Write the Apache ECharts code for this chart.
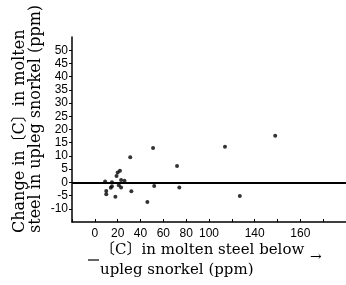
<!DOCTYPE html>
<html>
<head>
<meta charset="utf-8">
<script src="https://cdn.jsdelivr.net/npm/echarts@6/dist/echarts.min.js"></script>
<style>
  html, body { margin: 0; padding: 0; background: #fff; }
  #chart { width: 346px; height: 285px; }
</style>
</head>
<body>
<div id="chart"></div>
<script>
// [C] below upleg snorkel (ppm) vs change in [C] in upleg snorkel (ppm)
const carbonBelow = [9, 10, 10, 14, 15, 15, 18, 19, 20, 22, 21, 23, 23, 26, 31, 32, 46, 52, 51, 72, 74, 114, 127, 158]
const carbonChange = [0.3, -3.3, -4.5, -2, 0, -1.5, -5.4, 2.4, 3.7, 4.4, -1.1, -1.9, 0.9, 0.6, 9.5, -3.4, -7.4, -1.4, 13, 6.2, -1.9, 13.5, -5.2, 17.6]

// tick labels as printed on the original axis
const xTickValues = [0, 20, 40, 60, 80, 100, 140, 180]
const xTickLabels = ['0', '20', '40', '60', '80', '100', '140', '160']
const yTickValues = [-10, -5, 0, 5, 10, 15, 20, 25, 30, 35, 40, 45, 50]

const chart = echarts.init(document.getElementById('chart'))

const serif = 'DejaVu Serif, Noto Sans CJK JP, serif'

chart.setOption({
  animation: false,
  grid: { left: 72, right: 0, top: 37, bottom: 63 },
  xAxis: {
    type: 'value',
    min: -20,
    max: 220,
    interval: 20,
    axisLine: { show: true, onZero: false, lineStyle: { color: '#000', width: 1.5 } },
    axisTick: { show: true, inside: true, length: 3, lineStyle: { color: '#000' } },
    splitLine: { show: false },
    axisLabel: {
      customValues: xTickValues,
      formatter: v => xTickLabels[xTickValues.indexOf(v)] ?? '',
      color: '#000',
      fontSize: 12,
      fontFamily: 'Liberation Sans, sans-serif',
      margin: 6
    }
  },
  yAxis: {
    type: 'value',
    min: -15,
    max: 55,
    interval: 5,
    axisLine: { show: true, onZero: false, lineStyle: { color: '#000', width: 1.5 } },
    axisTick: { show: true, customValues: yTickValues, length: 3, lineStyle: { color: '#000' } },
    splitLine: { show: false },
    axisLabel: {
      customValues: yTickValues,
      color: '#000',
      fontSize: 12,
      fontFamily: 'Liberation Sans, sans-serif',
      margin: 4
    }
  },
  series: [{
    type: 'scatter',
    data: carbonBelow.map((x, i) => [x, carbonChange[i]]),
    symbolSize: 4,
    itemStyle: { color: '#000' },
    markLine: {
      silent: true,
      symbol: 'none',
      label: { show: false },
      lineStyle: { color: '#000', width: 1.8, type: 'solid' },
      data: [{ yAxis: 0 }]
    }
  }],
  graphic: [
    {
      type: 'text', x: 20, y: 233, rotation: Math.PI / 2,
      style: { text: 'Change in〔C〕in molten', font: '16px ' + serif, fill: '#000', align: 'left', verticalAlign: 'middle' }
    },
    {
      type: 'text', x: 36, y: 233, rotation: Math.PI / 2,
      style: { text: 'steel in upleg snorkel (ppm)', font: '16px ' + serif, fill: '#000', align: 'left', verticalAlign: 'middle' }
    },
    {
      type: 'text', x: 100, y: 250,
      style: { text: '〔C〕in molten steel below', font: '15px ' + serif, fill: '#000', align: 'left', verticalAlign: 'middle' }
    },
    {
      type: 'text', x: 100, y: 270,
      style: { text: 'upleg snorkel (ppm)', font: '15px ' + serif, fill: '#000', align: 'left', verticalAlign: 'middle' }
    },
    {
      type: 'line', shape: { x1: 88, y1: 260, x2: 99, y2: 260 },
      style: { stroke: '#000', lineWidth: 1.2 }
    },
    {
      type: 'text', x: 310, y: 257,
      style: { text: '→', font: '14px ' + serif, fill: '#000', align: 'left', verticalAlign: 'middle' }
    }
  ]
})
</script>
</body>
</html>
